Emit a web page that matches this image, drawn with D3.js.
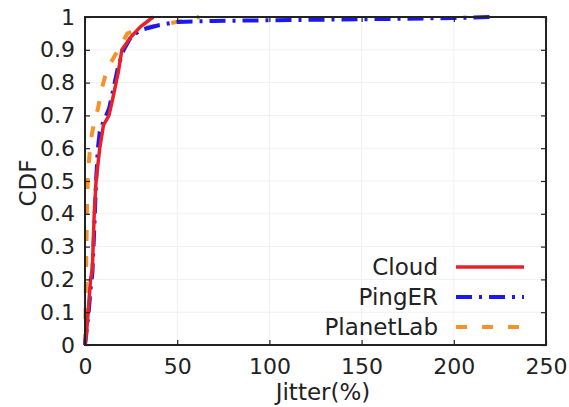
<!DOCTYPE html>
<html>
<head>
<meta charset="utf-8">
<script src="https://cdn.jsdelivr.net/npm/d3@7"></script>
<style>
  html, body { margin: 0; padding: 0; background: #fff; }
  svg { display: block; }
  text { font-family: "DejaVu Sans", sans-serif; fill: #222; }
</style>
</head>
<body>
<svg id="chart" width="569" height="407"></svg>
<script>
// Empirical CDF of jitter for three measurement sources
const cloudJitter = [0, 1, 2, 3, 4, 5, 6, 8, 10, 13, 15, 18, 20, 25, 30, 37];
const cloudCdf    = [0, 0.05, 0.12, 0.2, 0.23, 0.4, 0.5, 0.6, 0.67, 0.7, 0.75, 0.83, 0.9, 0.94, 0.97, 1.0];

const pingerJitter = [0, 1, 2, 3, 4, 5, 6, 7, 8, 10, 13, 15, 18, 21, 25, 30, 40, 50, 70, 100, 150, 200, 220];
const pingerCdf    = [0, 0.05, 0.1, 0.17, 0.22, 0.35, 0.5, 0.6, 0.65, 0.68, 0.72, 0.77, 0.85, 0.9, 0.94, 0.96, 0.975, 0.985, 0.988, 0.99, 0.993, 0.997, 1.0];

const planetJitter = [0, 0.3, 0.5, 0.8, 1, 1.5, 2, 3, 4, 5, 7, 9, 11, 14, 17, 20, 23, 28, 35, 45, 55, 62];
const planetCdf    = [0, 0.1, 0.2, 0.3, 0.4, 0.5, 0.55, 0.62, 0.65, 0.68, 0.72, 0.78, 0.82, 0.86, 0.89, 0.92, 0.95, 0.96, 0.97, 0.98, 0.99, 1.0];

const seriesNames = ["Cloud", "PingER", "PlanetLab"];
const xTicks = [0, 50, 100, 150, 200, 250];
const yTicks = [0, 0.1, 0.2, 0.3, 0.4, 0.5, 0.6, 0.7, 0.8, 0.9, 1];

const styles = [
  { color: "#e8202a", dash: null,          width: 3.5 },
  { color: "#1a1aee", dash: "16,7,3,7",    width: 4 },
  { color: "#f7922a", dash: "11,15",       width: 4 }
];

const series = [
  cloudJitter.map((x, i) => [x, cloudCdf[i]]),
  pingerJitter.map((x, i) => [x, pingerCdf[i]]),
  planetJitter.map((x, i) => [x, planetCdf[i]])
];

const margin = { left: 85, right: 23, top: 17, bottom: 62 };
const W = 569, H = 407;
const svg = d3.select("#chart");

const x = d3.scaleLinear().domain([0, 250]).range([margin.left, W - margin.right]);
const y = d3.scaleLinear().domain([0, 1]).range([H - margin.bottom, margin.top]);

// light grid
const grid = svg.append("g").attr("stroke", "#f0f0f0").attr("stroke-width", 1);
grid.selectAll(".gx").data(xTicks.slice(1, -1)).join("line")
  .attr("x1", d => x(d)).attr("x2", d => x(d))
  .attr("y1", y(0)).attr("y2", y(1));
grid.selectAll(".gy").data(yTicks.slice(1, -1)).join("line")
  .attr("x1", x(0)).attr("x2", x(250))
  .attr("y1", d => y(d)).attr("y2", d => y(d));

// curves
const line = d3.line().x(d => x(d[0])).y(d => y(d[1]));
const curves = svg.append("g").attr("fill", "none");
series.slice().reverse().forEach((s, k) => {
  const st = styles[series.length - 1 - k];
  curves.append("path")
    .attr("d", line(s))
    .attr("stroke", st.color)
    .attr("stroke-width", st.width)
    .attr("stroke-dasharray", st.dash)
    .attr("stroke-linejoin", "round");
});

// axes with inward ticks on all four sides
const fmtY = d => d === 0 ? "0" : d === 1 ? "1" : d3.format(".1f")(d);
const axB = svg.append("g").attr("transform", `translate(0,${y(0)})`)
  .call(d3.axisBottom(x).tickValues(xTicks).tickSizeInner(-5).tickSizeOuter(0).tickPadding(13));
const axL = svg.append("g").attr("transform", `translate(${x(0)},0)`)
  .call(d3.axisLeft(y).tickValues(yTicks).tickFormat(fmtY).tickSizeInner(-5).tickSizeOuter(0).tickPadding(10));
const axT = svg.append("g").attr("transform", `translate(0,${y(1)})`)
  .call(d3.axisTop(x).tickValues(xTicks).tickSizeInner(-5).tickSizeOuter(0).tickFormat(""));
const axR = svg.append("g").attr("transform", `translate(${x(250)},0)`)
  .call(d3.axisRight(y).tickValues(yTicks).tickSizeInner(-5).tickSizeOuter(0).tickFormat(""));

[axB, axL, axT, axR].forEach(a => {
  a.select(".domain").remove();
  a.selectAll(".tick line").attr("stroke", "#222").attr("stroke-width", 1.2);
  a.selectAll(".tick text").attr("font-size", 22).attr("fill", "#222")
    .attr("font-family", "DejaVu Sans, sans-serif");
});

// frame
svg.append("rect")
  .attr("x", x(0)).attr("y", y(1))
  .attr("width", x(250) - x(0)).attr("height", y(0) - y(1))
  .attr("fill", "none").attr("stroke", "#222").attr("stroke-width", 2);

// axis titles
svg.append("text")
  .attr("x", 323).attr("y", 400)
  .attr("text-anchor", "middle").attr("font-size", 23)
  .text("Jitter(%)");
svg.append("text")
  .attr("transform", `translate(36,${183}) rotate(-90)`)
  .attr("text-anchor", "middle").attr("font-size", 23)
  .text("CDF");

// legend
const legendY = [267, 297, 327];
const lg = svg.append("g");
seriesNames.forEach((name, i) => {
  lg.append("text")
    .attr("x", 438).attr("y", legendY[i] + 8)
    .attr("text-anchor", "end").attr("font-size", 23)
    .text(name);
  lg.append("line")
    .attr("x1", 456).attr("x2", 524)
    .attr("y1", legendY[i]).attr("y2", legendY[i])
    .attr("stroke", styles[i].color)
    .attr("stroke-width", styles[i].width)
    .attr("stroke-dasharray", styles[i].dash);
});
</script>
</body>
</html>
